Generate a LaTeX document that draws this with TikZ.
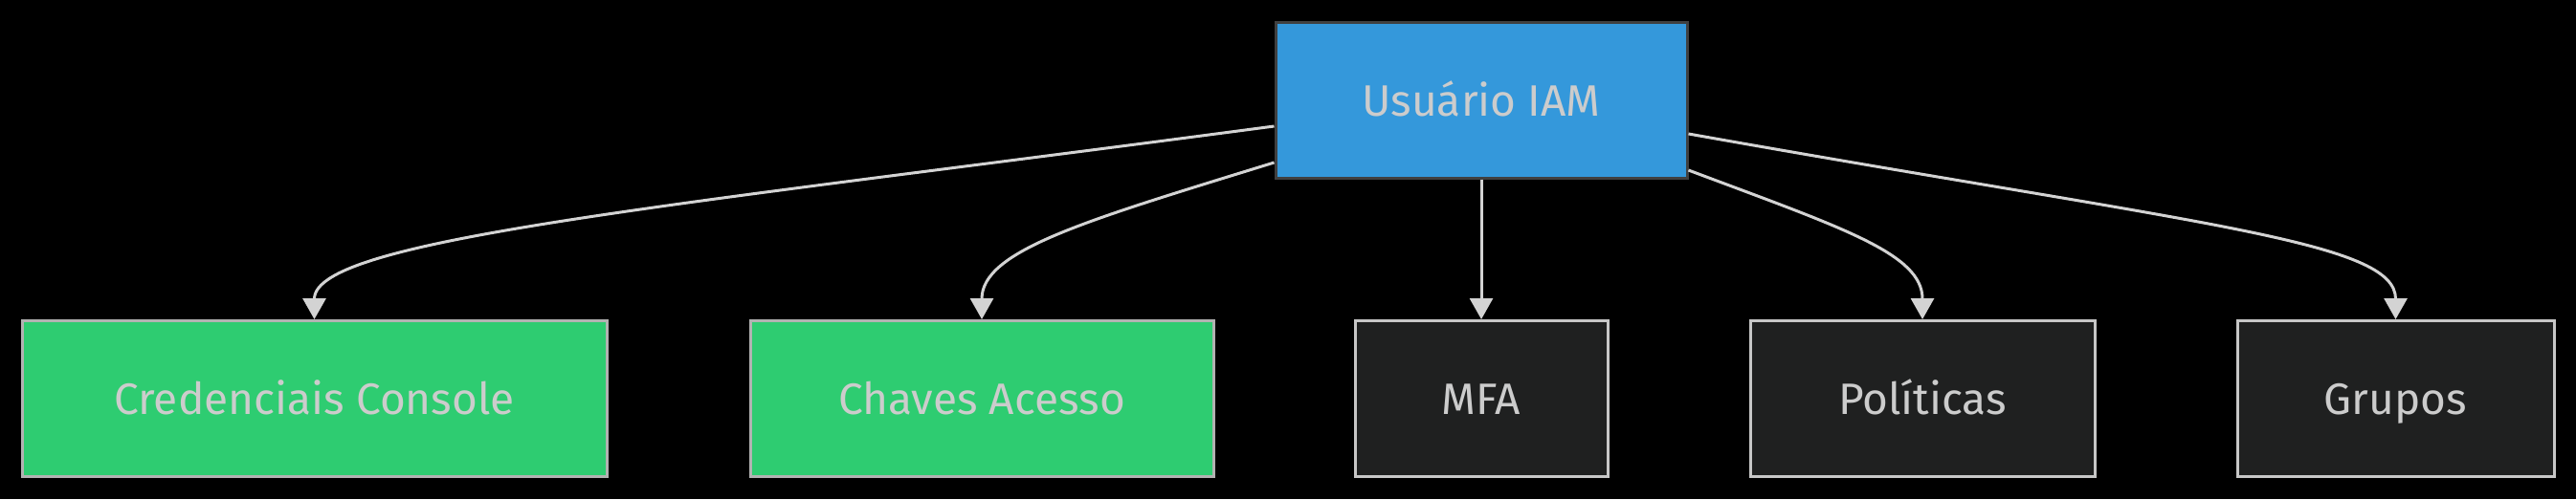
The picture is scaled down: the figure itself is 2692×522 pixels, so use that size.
\documentclass[tikz,border=0pt]{standalone}
\usepackage{fontspec}
\setmainfont{Fira Sans}
\usetikzlibrary{arrows.meta}
\definecolor{bluefill}{HTML}{3498DB}
\definecolor{greenfill}{HTML}{2ECC71}
\definecolor{darkfill}{HTML}{1F2020}
\definecolor{txt}{HTML}{CCCCCC}
\definecolor{edgec}{HTML}{D3D3D3}
\tikzset{
  box/.style={draw, line width=3pt, inner sep=0pt, minimum height=163pt, text height=33pt, text depth=0pt, text=txt, font=\fontsize{46}{52}\selectfont},
  bluebox/.style={box, fill=bluefill, draw=black!75},
  greenbox/.style={box, fill=greenfill, draw=black!30},
  darkbox/.style={box, fill=darkfill, draw=black!22},
  conn/.style={draw=edgec, line width=3pt, -{Triangle[length=22pt,width=24pt]}}
}
\begin{document}
\begin{tikzpicture}[x=1pt,y=-1pt]
\fill[black] (0,0) rectangle (2692,522);
\useasboundingbox (0,0) rectangle (2692,522);
\node[bluebox, minimum width=430pt] (u) at (1548,104.5) {Usuário IAM};
\node[greenbox, minimum width=611pt] (c) at (328.5,417) {Credenciais Console};
\node[greenbox, minimum width=484pt] (k) at (1026,417) {Chaves Acesso};
\node[darkbox, minimum width=264pt] (m) at (1548,417) {MFA};
\node[darkbox, minimum width=360pt] (p) at (2009,417) {Políticas};
\node[darkbox, minimum width=331pt] (g) at (2503.5,417) {Grupos};
\draw[conn] ([yshift=-27.5pt]u.west) .. controls (700,216) and (328.5,250) .. (c.north);
\draw[conn] ([yshift=-65.5pt]u.west) .. controls (1134,231) and (1026,262) .. (k.north);
\draw[conn] (u.south) -- (m.north);
\draw[conn] ([yshift=-73.5pt]u.east) .. controls (1924,238) and (2009,265) .. (p.north);
\draw[conn] ([yshift=-35.5pt]u.east) .. controls (2304,236) and (2503.5,252) .. (g.north);
\end{tikzpicture}
\end{document}
